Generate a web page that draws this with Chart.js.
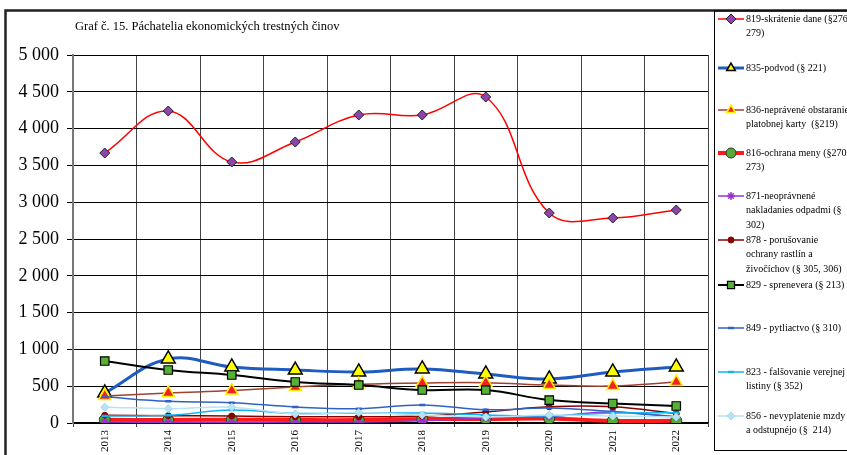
<!DOCTYPE html>
<html>
<head>
<meta charset="utf-8">
<script src="https://cdn.jsdelivr.net/npm/chart.js@4/dist/chart.umd.min.js"></script>
<style>
  html, body { margin: 0; padding: 0; background: #fff; }
  #wrap { width: 847px; height: 455px; position: relative; }
</style>
</head>
<body>
<div id="wrap"><canvas id="c" width="847" height="455"></canvas></div>
<script>
// Roky
const years = ['2013', '2014', '2015', '2016', '2017', '2018', '2019', '2020', '2021', '2022'];

// Počty páchateľov podľa trestného činu
const skratenieDane   = [3668, 4239, 3546, 3818, 4185, 4185, 4429, 2853, 2785, 2894];
const podvod          = [408, 870, 761, 720, 693, 734, 666, 598, 693, 761];
const platobneKarty   = [367, 408, 440, 489, 525, 543, 548, 516, 503, 557];
const ochranaMeny     = [45, 40, 45, 40, 40, 55, 55, 60, 30, 30];
const odpady          = [12, 10, 10, 12, 14, 30, 70, 90, 150, 80];
const rastliny        = [105, 100, 95, 85, 85, 95, 150, 220, 220, 130];
const sprenevera      = [842, 720, 652, 557, 516, 448, 448, 312, 265, 231];
const pytliactvo      = [355, 295, 276, 217, 195, 245, 180, 204, 154, 85];
const verejneListiny  = [95, 105, 175, 130, 135, 135, 110, 95, 135, 140];
const mzdy            = [215, 195, 215, 122, 141, 109, 82, 109, 95, 82];

// Popisky legendy (po riadkoch)
const legendTexts = [
  ['819-skrátenie dane (§276-', '279)'],
  ['835-podvod (§ 221)'],
  ['836-neprávené obstaranie', 'platobnej karty  (§219)'],
  ['816-ochrana meny (§270-', '273)'],
  ['871-neoprávnené', 'nakladanies odpadmi (§', '302)'],
  ['878 - porušovanie', 'ochrany rastlín a', 'živočíchov (§ 305, 306)'],
  ['829 - sprenevera (§ 213)'],
  ['849 - pytliactvo (§ 310)'],
  ['823 - falšovanie verejnej', 'listiny (§ 352)'],
  ['856 - nevyplatenie mzdy', 'a odstupnéjo (§  214)']
];
const yTickLabels = ['0', '500', '1 000', '1 500', '2 000', '2 500', '3 000', '3 500', '4 000', '4 500', '5 000'];
const chartTitle = 'Graf č. 15. Páchatelia ekonomických trestných činov';

const SERIF = '"Liberation Serif", "Times New Roman", serif';

const styles = [
  { line: '#ff0000', width: 1.5, point: 'rectRot', radius: 5, fill: '#8e44ad', stroke: '#222', pw: 1 },
  { line: '#1f5cbf', width: 3,   point: 'triangle', radius: 8, fill: '#ffff00', stroke: '#000', pw: 1.5 },
  { line: '#a0412d', width: 1.5, point: 'triangle', radius: 7, fill: '#ee2222', stroke: '#ffee00', pw: 1.5 },
  { line: '#ff1a1a', width: 4,   point: 'circle', radius: 5.5, fill: '#55aa33', stroke: '#333', pw: 1 },
  { line: '#9933cc', width: 1.5, point: 'star', radius: 4, fill: '#9933cc', stroke: '#9933cc', pw: 1.5 },
  { line: '#8b0000', width: 1.5, point: 'circle', radius: 3, fill: '#8b0000', stroke: '#8b0000', pw: 1 },
  { line: '#000000', width: 2,   point: 'rect', radius: 6, fill: '#55b035', stroke: '#000', pw: 1.2 },
  { line: '#2f62c4', width: 1.5, point: 'line', radius: 3, fill: '#2f62c4', stroke: '#2f62c4', pw: 2.5 },
  { line: '#14b4ee', width: 1.5, point: 'line', radius: 3, fill: '#14b4ee', stroke: '#14b4ee', pw: 2.5 },
  { line: '#b7e3f2', width: 1.5, point: 'rectRot', radius: 4, fill: '#b7e3f2', stroke: '#a6dbee', pw: 1 }
];
const seriesData = [skratenieDane, podvod, platobneKarty, ochranaMeny, odpady, rastliny,
                    sprenevera, pytliactvo, verejneListiny, mzdy];

const datasets = seriesData.map((d, i) => ({
  label: legendTexts[i].join(' '),
  data: d,
  borderColor: styles[i].line,
  borderWidth: styles[i].width,
  backgroundColor: styles[i].fill,
  pointStyle: styles[i].point,
  pointRadius: styles[i].radius,
  pointBackgroundColor: styles[i].fill,
  pointBorderColor: styles[i].stroke,
  pointBorderWidth: styles[i].pw,
  tension: 0.4,
  fill: false,
  order: seriesData.length - i
}));

// Rám, nadpis a legenda
const framePlugin = {
  id: 'frame',
  beforeDraw(chart) {
    const ctx = chart.ctx;
    ctx.save();
    ctx.fillStyle = '#fff';
    ctx.fillRect(0, 0, chart.width, chart.height);
    ctx.restore();
  },
  afterDraw(chart) {
    const ctx = chart.ctx;
    ctx.save();
    // vonkajší rám
    ctx.strokeStyle = '#222';
    ctx.lineWidth = 2.5;
    ctx.beginPath();
    ctx.moveTo(5.5, 455);
    ctx.lineTo(5.5, 10.5);
    ctx.lineTo(847, 10.5);
    ctx.stroke();
    // nadpis
    ctx.fillStyle = '#000';
    ctx.font = '12.5px ' + SERIF;
    ctx.textBaseline = 'middle';
    ctx.textAlign = 'left';
    ctx.fillText(chartTitle, 75, 27);
    // rámik legendy
    ctx.strokeStyle = '#000';
    ctx.lineWidth = 1;
    ctx.strokeRect(714.5, 11, 140, 439.5);
    // položky legendy
    const firstY = [19, 68, 110, 153, 196, 240, 285, 328, 372, 416];
    ctx.font = '10px ' + SERIF;
    legendTexts.forEach((lines, i) => {
      const y = firstY[i];
      const s = styles[i];
      ctx.strokeStyle = s.line;
      ctx.lineWidth = s.width;
      ctx.beginPath();
      ctx.moveTo(718, y);
      ctx.lineTo(744, y);
      ctx.stroke();
      ctx.fillStyle = s.fill;
      ctx.strokeStyle = s.stroke;
      ctx.lineWidth = s.pw;
      Chart.helpers.drawPoint(ctx, { pointStyle: s.point, radius: Math.min(s.radius, 5), rotation: 0, borderWidth: s.pw }, 731, y);
      ctx.fillStyle = '#000';
      lines.forEach((t, k) => ctx.fillText(t, 746, y + k * 14.5));
    });
    ctx.restore();
  }
};

new Chart(document.getElementById('c'), {
  type: 'line',
  data: { labels: years, datasets },
  plugins: [framePlugin],
  options: {
    responsive: false,
    animation: false,
    devicePixelRatio: 1,
    layout: { padding: { left: 0, top: 55, right: 139, bottom: 0 } },
    plugins: { legend: { display: false }, title: { display: false }, tooltip: { enabled: false } },
    scales: {
      x: {
        offset: true,
        afterFit(scale) { scale.height = 32; },
        grid: { offset: true, color: '#444', lineWidth: 1, tickLength: 4, drawTicks: true },
        border: { color: '#000', width: 1.5 },
        ticks: {
          minRotation: 90, maxRotation: 90, padding: 3,
          color: '#000', font: { family: SERIF, size: 11 }
        }
      },
      y: {
        min: 0, max: 5000,
        afterFit(scale) { scale.width = 73; },
        afterBuildTicks(scale) {
          scale.ticks = yTickLabels.map((t, i) => ({ value: i * 500 }));
        },
        grid: { color: '#000', lineWidth: 1, tickLength: 6 },
        border: { color: '#777', width: 2 },
        ticks: {
          padding: 8,
          color: '#000',
          font: { family: SERIF, size: 18 },
          callback: (v, i) => yTickLabels[i]
        }
      }
    }
  }
});
</script>
</body>
</html>
